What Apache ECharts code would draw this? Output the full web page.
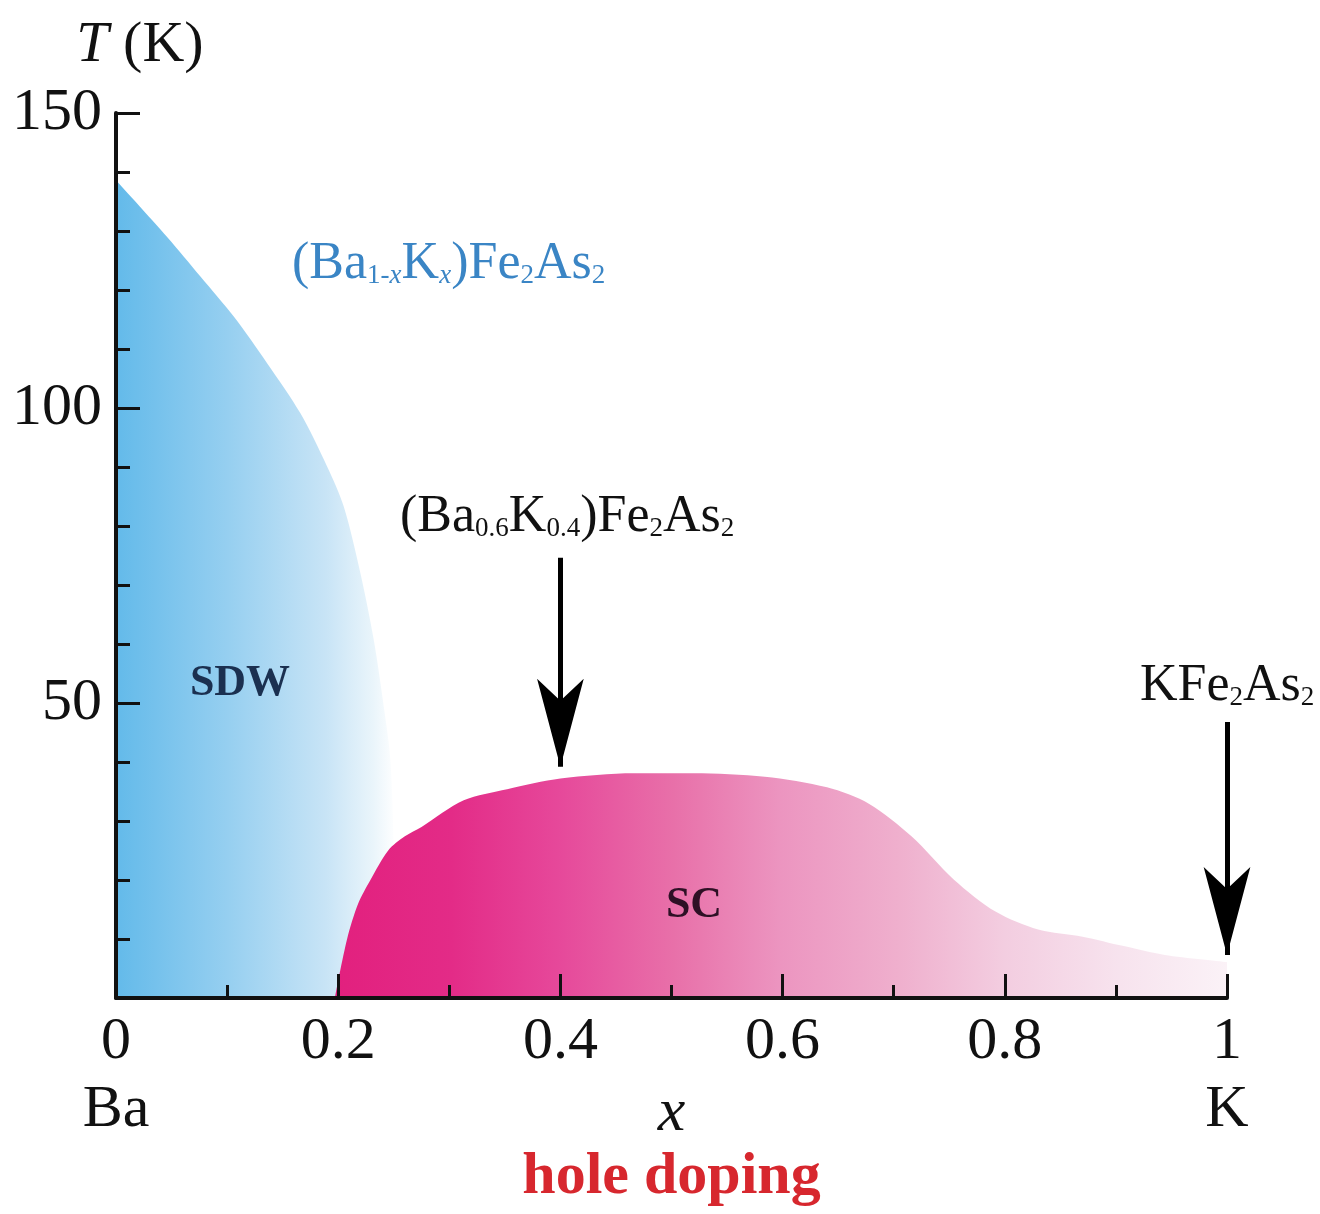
<!DOCTYPE html>
<html>
<head>
<meta charset="utf-8">
<script src="https://cdn.jsdelivr.net/npm/echarts@6/dist/echarts.min.js"></script>
<style>
  html, body { margin: 0; padding: 0; background: #fff; }
  #chart { width: 1320px; height: 1214px; }
</style>
</head>
<body>
<div id="chart"></div>
<script>
// SDW phase boundary (blue region), x vs T(K)
const sdwX = [0, 0.046, 0.076, 0.106, 0.136, 0.166, 0.19, 0.205, 0.22, 0.232, 0.241, 0.247, 0.25, 0.252];
const sdwT = [138.6, 129, 122.3, 115.5, 107.6, 99.1, 90.1, 83.3, 72, 60.7, 49.4, 40.3, 25, 0];

// SC dome (pink region)
const scX = [0.197, 0.208, 0.218, 0.229, 0.245, 0.26, 0.275, 0.313, 0.352, 0.4, 0.466, 0.52, 0.584, 0.64, 0.678, 0.716, 0.754, 0.792, 0.83, 0.87, 0.907, 0.944, 1];
const scT = [0, 10, 16, 20, 25, 27.4, 29, 33.5, 35.4, 37.2, 38.1, 38.1, 37.5, 35.7, 32.9, 27.4, 20.1, 14.6, 11.6, 10.4, 8.8, 7.3, 6.1];

// arrows: x position, tail T, tip T
const arrowX = [0.4, 1];
const arrowFrom = [74.6, 46.8];
const arrowTo = [39.2, 7.3];

const xTicks = [0, 0.2, 0.4, 0.6, 0.8, 1];
const xTickText = ['0\nBa', '0.2', '0.4', '0.6', '0.8', '1\nK'];
const yTicks = [50, 100, 150];
const yTickText = ['50', '100', '150'];

const serif = 'Liberation Serif';
const ink = '#111';

function pick(ticks, texts, v) {
  const i = ticks.findIndex(t => Math.abs(t - v) < 1e-6);
  return i < 0 ? '' : texts[i];
}

// rich styles for chemical formulas with subscripts
function formulaRich(size) {
  return {
    m: { fontFamily: serif, fontSize: size, lineHeight: size + 2, verticalAlign: 'middle' },
    s: { fontFamily: serif, fontSize: size * 0.52, lineHeight: size * 0.52, padding: [size * 0.44, 0, 0, 0], verticalAlign: 'middle' },
    sx: { fontFamily: serif, fontSize: size * 0.52, fontStyle: 'italic', lineHeight: size * 0.52, padding: [size * 0.44, 0, 0, 0], verticalAlign: 'middle' }
  };
}

const chart = echarts.init(document.getElementById('chart'), null, { renderer: 'canvas' });

const option = {
  animation: false,
  backgroundColor: '#fff',
  grid: { left: 116, right: 93, top: 113, bottom: 216, containLabel: false, outerBoundsMode: 'none' },
  xAxis: {
    type: 'value', min: 0, max: 1, interval: 0.2, z: 5,
    axisLine: { lineStyle: { color: ink, width: 4 } },
    axisTick: { inside: true, length: 24, lineStyle: { color: ink, width: 3 } },
    minorTick: { show: true, splitNumber: 2, length: 13, lineStyle: { color: ink, width: 3 } },
    splitLine: { show: false },
    axisLabel: {
      margin: 10, fontFamily: serif, fontSize: 60, lineHeight: 68, color: ink,
      formatter: v => pick(xTicks, xTickText, v)
    },
    name: '{i|x}\n{r|hole doping}',
    nameLocation: 'middle', nameGap: 85, nameMoveOverlap: false,
    nameTextStyle: {
      verticalAlign: 'top',
      rich: {
        i: { fontFamily: serif, fontSize: 62, fontStyle: 'italic', lineHeight: 62, color: ink },
        r: { fontFamily: serif, fontSize: 60, fontWeight: 'bold', lineHeight: 64, color: '#d7272e' }
      }
    }
  },
  yAxis: {
    type: 'value', min: 0, max: 150, interval: 50, z: 5,
    axisLine: { lineStyle: { color: ink, width: 4 } },
    axisTick: { inside: true, length: 24, lineStyle: { color: ink, width: 3 } },
    minorTick: { show: true, splitNumber: 5, length: 14, lineStyle: { color: ink, width: 3 } },
    splitLine: { show: false },
    axisLabel: {
      margin: 14, fontFamily: serif, fontSize: 60, color: ink,
      formatter: v => pick(yTicks, yTickText, v)
    },
    name: '{i|T} (K)',
    nameLocation: 'end', nameGap: 38, nameMoveOverlap: false,
    nameTextStyle: {
      fontFamily: serif, fontSize: 58, color: ink, padding: [0, 0, 0, 48],
      rich: { i: { fontFamily: serif, fontSize: 58, fontStyle: 'italic', color: ink } }
    }
  },
  series: [
    {
      name: 'SDW', type: 'line',
      data: sdwX.map((x, i) => [x, sdwT[i]]),
      smooth: 0.3, showSymbol: false, silent: true,
      lineStyle: { width: 0 },
      areaStyle: {
        opacity: 1,
        color: {
          type: 'linear', x: 0, y: 0, x2: 1, y2: 0,
          colorStops: [
            { offset: 0, color: '#63baea' },
            { offset: 0.4, color: '#96cff0' },
            { offset: 0.75, color: '#c8e4f6' },
            { offset: 0.92, color: '#eaf5fb' },
            { offset: 1, color: '#ffffff' }
          ]
        }
      },
      z: 1
    },
    {
      name: 'SC', type: 'line',
      data: scX.map((x, i) => [x, scT[i]]),
      smooth: 0.3, showSymbol: false, silent: true,
      lineStyle: { width: 0 },
      areaStyle: {
        opacity: 1,
        color: {
          type: 'linear', x: 0, y: 0, x2: 1, y2: 0,
          colorStops: [
            { offset: 0, color: '#e2207e' },
            { offset: 0.13, color: '#e32b87' },
            { offset: 0.25, color: '#e6489a' },
            { offset: 0.38, color: '#e870a9' },
            { offset: 0.5, color: '#ec95c0' },
            { offset: 0.63, color: '#efafcd' },
            { offset: 0.75, color: '#f3cde0' },
            { offset: 0.88, color: '#f7e3ee' },
            { offset: 1, color: '#fbf2f7' }
          ]
        }
      },
      markLine: {
        silent: true,
        symbol: ['none', 'arrow'],
        symbolSize: [35, 88],
        lineStyle: { color: '#000', width: 5, type: 'solid' },
        itemStyle: { color: '#000' },
        label: { show: false },
        emphasis: { disabled: true },
        data: arrowX.map((x, i) => [{ coord: [x, arrowFrom[i]] }, { coord: [x, arrowTo[i]] }])
      },
      z: 2
    }
  ],
  graphic: [
    {
      type: 'text', left: 292, top: 238, z: 10,
      style: {
        text: '{m|(Ba}{s|1-}{sx|x}{m|K}{sx|x}{m|)Fe}{s|2}{m|As}{s|2}',
        rich: formulaRich(52), fill: '#3a85c5'
      }
    },
    {
      type: 'text', left: 400, top: 491, z: 10,
      style: {
        text: '{m|(Ba}{s|0.6}{m|K}{s|0.4}{m|)Fe}{s|2}{m|As}{s|2}',
        rich: formulaRich(52), fill: ink
      }
    },
    {
      type: 'text', left: 1140, top: 660, z: 10,
      style: {
        text: '{m|KFe}{s|2}{m|As}{s|2}',
        rich: formulaRich(52), fill: ink
      }
    },
    {
      type: 'text', x: 240, y: 684, z: 10,
      style: { text: 'SDW', align: 'center', verticalAlign: 'middle', fontFamily: serif, fontSize: 44, fontWeight: 'bold', fill: '#1b3050' }
    },
    {
      type: 'text', x: 694, y: 906, z: 10,
      style: { text: 'SC', align: 'center', verticalAlign: 'middle', fontFamily: serif, fontSize: 44, fontWeight: 'bold', fill: '#2e1025' }
    }
  ]
};

chart.setOption(option);
</script>
</body>
</html>
